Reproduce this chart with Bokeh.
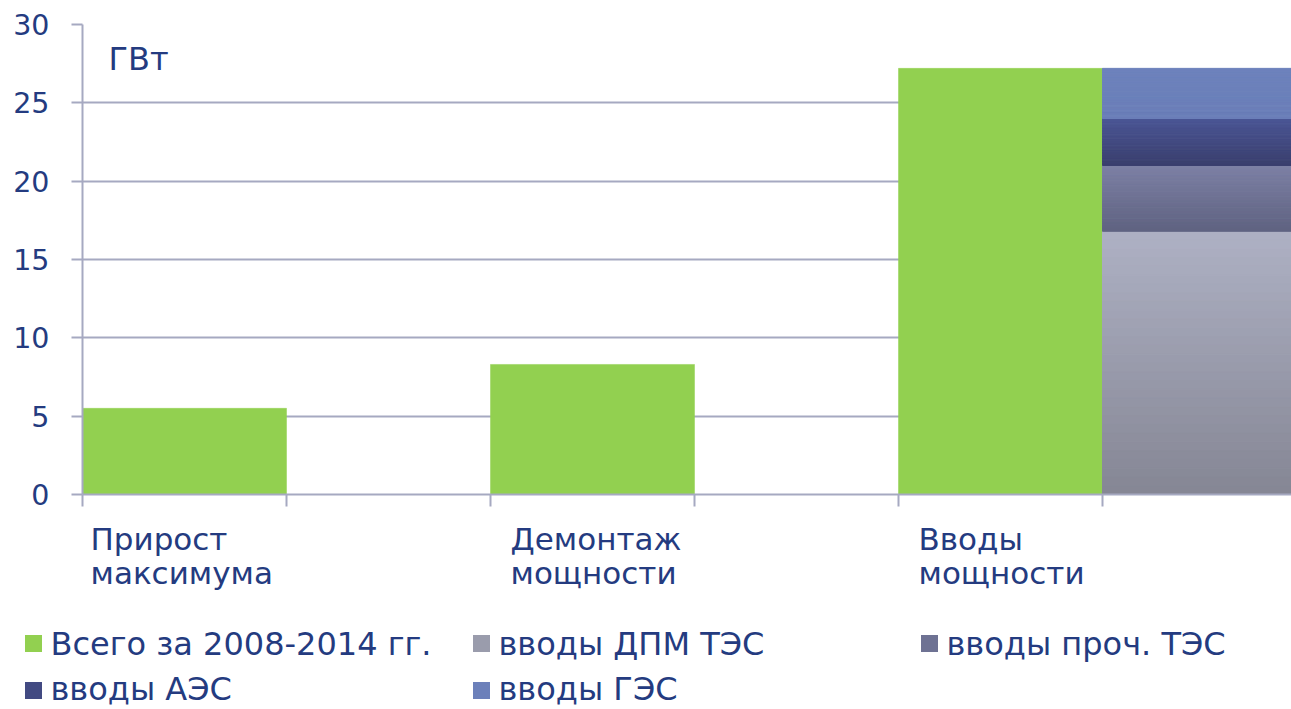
from bokeh.plotting import figure
from bokeh.models import (Range1d, FixedTicker, ColumnDataSource, CustomJSTickFormatter, Label)
from bokeh.core.properties import value
from bokeh.embed import file_html
from bokeh.resources import INLINE

# ---------------- data ----------------
cat_line1 = ["Прирост", "Демонтаж", "Вводы"]
cat_line2 = ["максимума", "мощности", "мощности"]
total_label = "Всего за 2008-2014 гг."
total_values = [5.5, 8.3, 27.2]
stack_names = ["вводы ДПМ ТЭС", "вводы проч. ТЭС", "вводы АЭС", "вводы ГЭС"]
stack_values = [16.8, 4.2, 3.0, 3.2]
stack_category = 2
y_ticks = [0, 5, 10, 15, 20, 25, 30]
unit_label = "ГВт"

# ---------------- style ----------------
FONT = "DejaVu Sans"
TEXT = "#243B80"
GRID = "#A6A9C1"
GREEN = "#92D050"
stack_grad = [("#AEB1C4", "#858694"), ("#7D81A5", "#5F6281"),
              ("#4B5696", "#3A3F6D"), ("#6D82BC", "#6A7EB8")]
cat_x_offsets = [8, 20, 20]
BASE_FIX = 12  # baseline correction (px)

W, H = 1291, 709
LEFT, TOP = 82, 24
FRAME_H = 470
MAIN_H = 514
PX_PER_CAT = 408.0

# ---------------- main chart ----------------
p = figure(width=W, height=MAIN_H,
           x_range=Range1d(0, (W - LEFT) / PX_PER_CAT), y_range=Range1d(0, 30),
           output_backend="svg", toolbar_location=None,
           min_border_left=LEFT, min_border_right=0,
           min_border_top=TOP, min_border_bottom=MAIN_H - TOP - FRAME_H)
p.outline_line_color = None
p.background_fill_color = "white"
p.border_fill_color = "white"

p.yaxis.ticker = FixedTicker(ticks=y_ticks)
p.yaxis.major_tick_out = 11
p.yaxis.major_tick_in = 0
p.yaxis.minor_tick_line_color = None
p.yaxis.axis_line_color = GRID
p.yaxis.axis_line_width = 2
p.yaxis.major_tick_line_color = GRID
p.yaxis.major_tick_line_width = 2
p.yaxis.major_label_standoff = 22
p.yaxis.major_label_text_font = FONT
p.yaxis.major_label_text_font_size = "28.5px"
p.yaxis.major_label_text_color = TEXT

xt = []
for i in range(len(cat_line1)):
    xt += [i, i + 0.5]
p.xaxis.ticker = FixedTicker(ticks=xt)
p.xaxis.formatter = CustomJSTickFormatter(code="return ''")
p.xaxis.major_label_text_font_size = "1px"
p.xaxis.major_tick_out = 12
p.xaxis.major_tick_in = 0
p.xaxis.major_label_standoff = 0
p.xaxis.minor_tick_line_color = None
p.xaxis.axis_line_color = GRID
p.xaxis.axis_line_width = 2
p.xaxis.major_tick_line_color = GRID
p.xaxis.major_tick_line_width = 2

p.xgrid.visible = False
p.ygrid.grid_line_color = GRID
p.ygrid.grid_line_width = 2

xs = [i + 0.25 for i in range(len(total_values))]
p.vbar(x=xs, width=0.5, bottom=0, top=total_values,
       fill_color=GREEN, line_color=GREEN, line_width=0.5)


def hex2rgb(h):
    h = h.lstrip("#")
    return tuple(int(h[k:k + 2], 16) for k in (0, 2, 4))


def lerp(c0, c1, f):
    a, b = hex2rgb(c0), hex2rgb(c1)
    return "#%02x%02x%02x" % tuple(int(round(a[k] + (b[k] - a[k]) * f)) for k in range(3))


N = 30
base = 0.0
for j, v in enumerate(stack_values):
    b, t = base, base + v
    tops, bots, cols = [], [], []
    for k in range(N):
        tops.append(t - (t - b) * k / N)
        bots.append(t - (t - b) * (k + 1) / N)
        cols.append(lerp(stack_grad[j][0], stack_grad[j][1], (k + 0.5) / N))
    src = ColumnDataSource(dict(left=[stack_category + 0.5] * N,
                                right=[stack_category + 1.0] * N,
                                top=tops, bottom=bots, color=cols))
    p.quad(left="left", right="right", top="top", bottom="bottom",
           fill_color="color", line_color="color", line_width=1, source=src)
    base = t

p.add_layout(Label(x=0, y=30, x_units="data", y_units="data", x_offset=26,
                   y_offset=-46 + BASE_FIX,
                   text=unit_label, text_font=FONT, text_font_size="32px",
                   text_color=TEXT, text_baseline="alphabetic", text_align="left"))

# ---------------- bottom strip: category labels + legend ----------------
BOT_H = H - MAIN_H
p2 = figure(width=W, height=BOT_H,
            x_range=Range1d(-LEFT / PX_PER_CAT, (W - LEFT) / PX_PER_CAT),
            y_range=Range1d(BOT_H, 0),
            output_backend="svg", toolbar_location=None,
            x_axis_type=None, y_axis_type=None,
            min_border=0, min_border_left=0, min_border_right=0,
            min_border_top=0, min_border_bottom=0)
p2.outline_line_color = None
p2.background_fill_color = "white"
p2.border_fill_color = "white"

cat_src = ColumnDataSource(dict(
    x=[float(i) for i in range(len(cat_line1))] * 2,
    y=[550 - MAIN_H - BASE_FIX] * len(cat_line1) + [584 - MAIN_H - BASE_FIX] * len(cat_line2),
    off=cat_x_offsets * 2,
    text=cat_line1 + cat_line2))
p2.text(x="x", y="y", text="text", x_offset="off", source=cat_src,
        text_font=value(FONT), text_font_size="31px", text_color=TEXT,
        text_align="left", text_baseline="alphabetic")

legend_labels = [total_label] + stack_names
legend_colors = [GREEN] + [lerp(a, b, 0.5) for a, b in stack_grad]
col_px = [33, 481, 929]
row_center_px = [643, 690]
row_base_px = [655, 700]
lx, ly, tx, ty = [], [], [], []
for n in range(len(legend_labels)):
    r, c = divmod(n, 3)
    lx.append((col_px[c] - LEFT) / PX_PER_CAT)
    ly.append(row_center_px[r] - MAIN_H)
    tx.append((col_px[c] + 17 - LEFT) / PX_PER_CAT)
    ty.append(row_base_px[r] - MAIN_H - BASE_FIX)
p2.rect(x=lx, y=ly, width=17, height=17, width_units="screen", height_units="screen",
        fill_color=legend_colors, line_color=None)
p2.text(x=tx, y=ty, text=legend_labels, text_font=value(FONT), text_font_size="32px",
        text_color=TEXT, text_align="left", text_baseline="alphabetic")

open("out.html", "w").write(file_html([p, p2], INLINE))
